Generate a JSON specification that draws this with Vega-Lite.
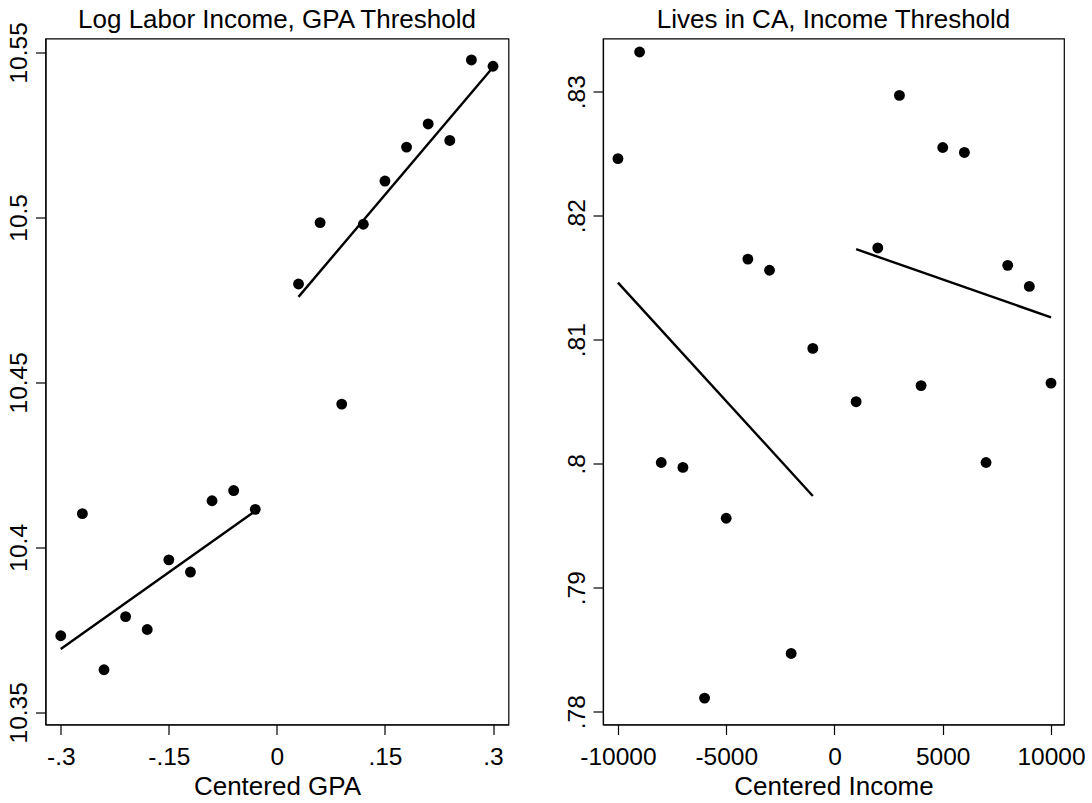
{
  "$schema": "https://vega.github.io/schema/vega-lite/v6.json",
  "autosize": {"type": "none"},
  "padding": {"left": 45.5, "top": 38.5, "right": 1046.5, "bottom": 764.5},
  "background": "white",
  "bounds": "flush",
  "spacing": 94.5,
  "config": {
    "font": "Liberation Sans",
    "view": {"stroke": "black", "strokeWidth": 1.2},
    "axis": {
      "grid": false,
      "domainColor": "black",
      "domainWidth": 1.2,
      "tickColor": "black",
      "tickWidth": 1.2,
      "tickSize": 10,
      "labelFont": "Liberation Sans",
      "labelFontSize": 24.5,
      "labelColor": "black",
      "titleFont": "Liberation Sans",
      "titleFontSize": 26,
      "titleFontWeight": "normal",
      "titleColor": "black"
    },
    "axisX": {"labelPadding": 11, "titlePadding": 4, "labelFlush": false},
    "axisY": {"labelAngle": 270, "labelAlign": "center", "labelBaseline": "alphabetic", "labelPadding": 9, "labelFlush": false},
    "title": {"font": "Liberation Sans", "fontSize": 26, "fontWeight": "normal", "color": "black", "baseline": "alphabetic", "offset": 5.5, "anchor": "middle", "frame": "group"}
  },
  "datasets": {
    "gpa_points": [
      {"gpa": -0.30, "income": 10.3732},
      {"gpa": -0.27, "income": 10.4102},
      {"gpa": -0.24, "income": 10.3629},
      {"gpa": -0.21, "income": 10.3790},
      {"gpa": -0.18, "income": 10.3751},
      {"gpa": -0.15, "income": 10.3962},
      {"gpa": -0.12, "income": 10.3925},
      {"gpa": -0.09, "income": 10.4141},
      {"gpa": -0.06, "income": 10.4172},
      {"gpa": -0.03, "income": 10.4115},
      {"gpa": 0.03, "income": 10.4798},
      {"gpa": 0.06, "income": 10.4984},
      {"gpa": 0.09, "income": 10.4434},
      {"gpa": 0.12, "income": 10.4979},
      {"gpa": 0.15, "income": 10.5110},
      {"gpa": 0.18, "income": 10.5213},
      {"gpa": 0.21, "income": 10.5283},
      {"gpa": 0.24, "income": 10.5233},
      {"gpa": 0.27, "income": 10.5477},
      {"gpa": 0.30, "income": 10.5458}
    ],
    "gpa_fit": [
      {"side": "below", "gpa": -0.30, "fit": 10.3692},
      {"side": "below", "gpa": -0.03, "fit": 10.4110},
      {"side": "above", "gpa": 0.03, "fit": 10.4759},
      {"side": "above", "gpa": 0.30, "fit": 10.5455}
    ],
    "ca_points": [
      {"inc": -10000, "ca": 0.8246},
      {"inc": -9000, "ca": 0.8332},
      {"inc": -8000, "ca": 0.8001},
      {"inc": -7000, "ca": 0.7997},
      {"inc": -6000, "ca": 0.7811},
      {"inc": -5000, "ca": 0.7956},
      {"inc": -4000, "ca": 0.8165},
      {"inc": -3000, "ca": 0.8156},
      {"inc": -2000, "ca": 0.7847},
      {"inc": -1000, "ca": 0.8093},
      {"inc": 1000, "ca": 0.8050},
      {"inc": 2000, "ca": 0.8174},
      {"inc": 3000, "ca": 0.8297},
      {"inc": 4000, "ca": 0.8063},
      {"inc": 5000, "ca": 0.8255},
      {"inc": 6000, "ca": 0.8251},
      {"inc": 7000, "ca": 0.8001},
      {"inc": 8000, "ca": 0.8160},
      {"inc": 9000, "ca": 0.8143},
      {"inc": 10000, "ca": 0.8065}
    ],
    "ca_fit": [
      {"side": "below", "inc": -10000, "fit": 0.8146},
      {"side": "below", "inc": -1000, "fit": 0.7974},
      {"side": "above", "inc": 1000, "fit": 0.8173},
      {"side": "above", "inc": 10000, "fit": 0.8118}
    ]
  },
  "hconcat": [
    {
      "width": 463,
      "height": 686,
      "title": {"text": "Log Labor Income, GPA Threshold", "offset": -11.3},
      "layer": [
        {
          "mark": {"type": "rule", "color": "#3a3a3a", "strokeWidth": 2},
          "encoding": {"x": {"datum": 0, "type": "quantitative"}}
        },
        {
          "data": {"name": "gpa_points"},
          "mark": {"type": "circle", "color": "black", "opacity": 1, "size": 118},
          "encoding": {
            "x": {"field": "gpa", "type": "quantitative",
              "scale": {"domain": [-0.3212, 0.3215], "nice": false, "zero": false},
              "axis": {"title": "Centered GPA", "values": [-0.3, -0.15, 0, 0.15, 0.3],
                "labelExpr": "datum.value == 0 ? '0' : (datum.value < 0 ? '-' : '') + replace(format(abs(datum.value), '~g'), '0.', '.')"}},
            "y": {"field": "income", "type": "quantitative",
              "scale": {"domain": [10.3463, 10.5542], "nice": false, "zero": false},
              "axis": {"title": null, "values": [10.35, 10.4, 10.45, 10.5, 10.55],
                "labelExpr": "format(datum.value, '.2~f')"}}
          }
        },
        {
          "data": {"name": "gpa_fit"},
          "mark": {"type": "line", "color": "black", "strokeWidth": 2.4},
          "encoding": {
            "x": {"field": "gpa", "type": "quantitative"},
            "y": {"field": "fit", "type": "quantitative"},
            "detail": {"field": "side"}
          }
        }
      ]
    },
    {
      "width": 461,
      "height": 686,
      "title": "Lives in CA, Income Threshold",
      "layer": [
        {
          "mark": {"type": "rule", "color": "#3a3a3a", "strokeWidth": 2},
          "encoding": {"x": {"datum": 0, "type": "quantitative"}}
        },
        {
          "data": {"name": "ca_points"},
          "mark": {"type": "circle", "color": "black", "opacity": 1, "size": 118},
          "encoding": {
            "x": {"field": "inc", "type": "quantitative",
              "scale": {"domain": [-10690, 10600], "nice": false, "zero": false},
              "axis": {"title": "Centered Income", "values": [-10000, -5000, 0, 5000, 10000],
                "labelExpr": "(datum.value < 0 ? '-' : '') + format(abs(datum.value), 'd')"}},
            "y": {"field": "ca", "type": "quantitative",
              "scale": {"domain": [0.77897, 0.83429], "nice": false, "zero": false},
              "axis": {"title": null, "values": [0.78, 0.79, 0.8, 0.81, 0.82, 0.83],
                "labelExpr": "replace(format(datum.value, '.2~f'), '0.', '.')"}}
          }
        },
        {
          "data": {"name": "ca_fit"},
          "mark": {"type": "line", "color": "black", "strokeWidth": 2.4},
          "encoding": {
            "x": {"field": "inc", "type": "quantitative"},
            "y": {"field": "fit", "type": "quantitative"},
            "detail": {"field": "side"}
          }
        }
      ]
    }
  ]
}
